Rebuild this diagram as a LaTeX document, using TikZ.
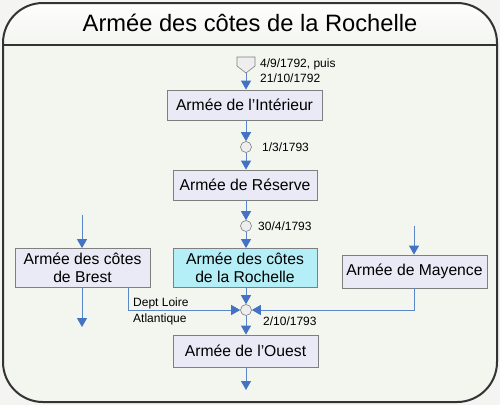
\documentclass[tikz,border=0pt]{standalone}
\usepackage{fontspec}
\setmainfont{Liberation Sans}
\usetikzlibrary{arrows.meta,calc}
\definecolor{outbg}{HTML}{F4F4F2}
\definecolor{bgc}{HTML}{F3F5EF}
\definecolor{framec}{HTML}{333333}
\definecolor{boxfill}{HTML}{E9EAF6}
\definecolor{boxline}{HTML}{7F7F7F}
\definecolor{cyanfill}{HTML}{B4EFF8}
\definecolor{flowc}{HTML}{5B86C8}
\definecolor{headc}{HTML}{4472C4}
\definecolor{circfill}{HTML}{EEEEEE}
\begin{document}
\begin{tikzpicture}[x=1pt,y=-1pt,
 box/.style={draw=boxline, fill=boxfill, line width=0.8pt, inner sep=0pt,
   font=\fontsize{15.7}{18}\selectfont, align=center},
 junction/.style={circle, draw=boxline, fill=circfill, minimum size=11pt,
   inner sep=0pt, line width=0.6pt},
 flow/.style={draw=flowc, line width=0.9pt,
   -{Triangle[width=10pt,length=9pt,color=headc]}},
 plainflow/.style={draw=flowc, line width=0.9pt},
 lbl/.style={font=\fontsize{12}{15}\selectfont, anchor=west, inner sep=0pt, align=left},
]
\useasboundingbox (0,0) rectangle (500,405);
\fill[outbg] (0,0) rectangle (500,405);
% frame
\fill[bgc, rounded corners=40pt] (3,3) rectangle (497,402);
\begin{scope}
 \clip[rounded corners=40pt] (3,3) rectangle (497,402);
 \shade[top color=white, bottom color=bgc] (0,0) rectangle (500,45);
\end{scope}
\draw[framec, line width=2pt, rounded corners=40pt] (3,3) rectangle (497,402);
\draw[framec, line width=2pt] (3,45) -- (497,45);
\node[font=\fontsize{23.7}{28}\selectfont, inner sep=0pt] (title) at (250,23) {Armée des côtes de la Rochelle};

% boxes
\node[box, minimum width=155pt, minimum height=30pt] (int) at (244.5,105) {Armée de l’Intérieur};
\node[box, minimum width=144pt, minimum height=30pt] (res) at (245,185) {Armée de Réserve};
\node[box, fill=cyanfill, minimum width=144pt, minimum height=39pt] (roc) at (245,268) {Armée des côtes\\de la Rochelle};
\node[box, minimum width=135pt, minimum height=39pt] (brest) at (82.5,268) {Armée des côtes\\de Brest};
\node[box, minimum width=145pt, minimum height=33pt] (may) at (414.5,271.5) {Armée de Mayence};
\node[box, minimum width=145pt, minimum height=32pt] (ouest) at (245.5,351) {Armée de l’Ouest};

% junctions
\node[junction] (j1) at (246,147) {};
\node[junction] (j2) at (246,226) {};
\node[junction] (j3) at (246,310) {};

% off-page connector
\draw[boxline, fill=circfill, line width=0.6pt] (237,57) -- (255,57) -- (255,66) -- (246,73) -- (237,66) -- cycle;
\coordinate (opc) at (246,73);

% free ends
\coordinate (bin) at (82,215);
\coordinate (bout) at (82,327);
\coordinate (min) at (414,226);
\coordinate (oout) at (246,390);
\coordinate (bturn) at (128,310);

% connectors
\draw[flow] (opc) -- (opc |- int.north);
\draw[flow] (j1 |- int.south) -- (j1.north);
\draw[flow] (j1.south) -- (j1 |- res.north);
\draw[flow] (j2 |- res.south) -- (j2.north);
\draw[flow] (j2.south) -- (j2 |- roc.north);
\draw[flow] (j3 |- roc.south) -- (j3.north);
\draw[flow] (j3.south) -- (j3 |- ouest.north);
\draw[flow] (j3 |- ouest.south) -- (oout);
\draw[flow] (bin) -- (bin |- brest.north);
\draw[flow] (bin |- brest.south) -- (bout);
\draw[flow] (bturn |- brest.south) -- (bturn) -- (j3.west);
\draw[flow] (min) -- (min |- may.north);
\draw[flow] (min |- may.south) -- (min |- j3) -- (j3.east);

% labels
\node[lbl] (l1) at (260,70.5) {4/9/1792, puis\\21/10/1792};
\node[lbl] (l2) at (262,147) {1/3/1793};
\node[lbl] (l3) at (258,226) {30/4/1793};
\node[lbl, font=\fontsize{12}{16}\selectfont] (l4) at (133,311) {Dept Loire\\Atlantique};
\node[lbl] (l5) at (263,321) {2/10/1793};
\end{tikzpicture}
\end{document}
